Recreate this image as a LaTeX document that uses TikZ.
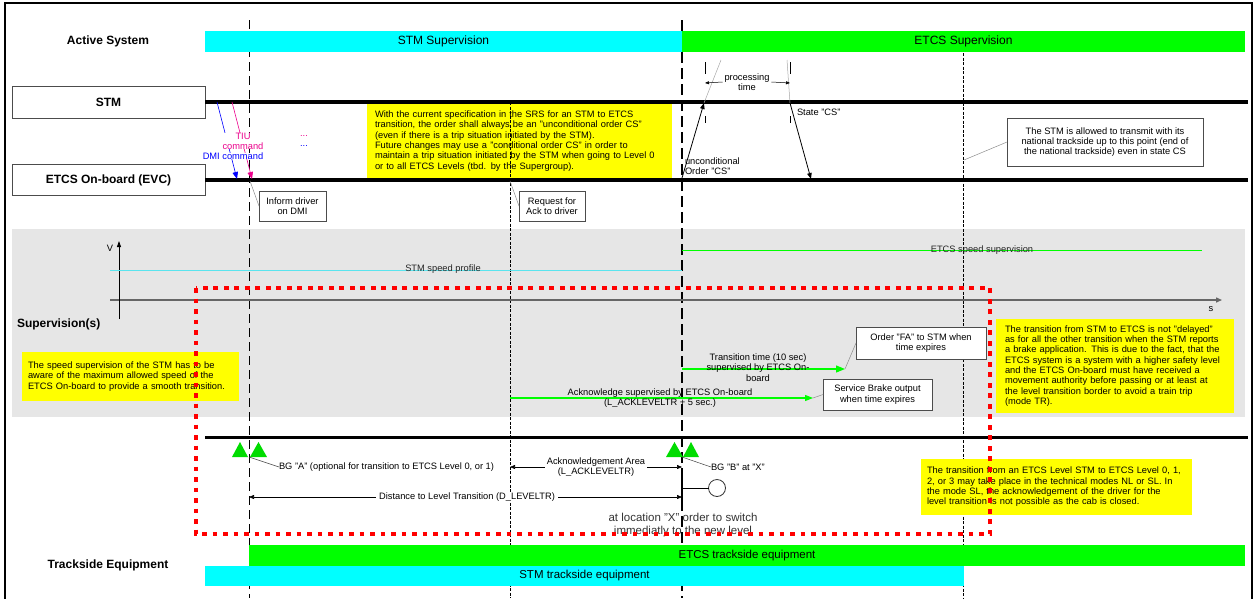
\documentclass[tikz,border=0pt]{standalone}
\usepackage{fontspec}
\setmainfont{Liberation Sans}
\usetikzlibrary{arrows.meta}
\definecolor{stmcyan}{RGB}{0,255,255}
\definecolor{etcsgreen}{RGB}{0,255,0}
\definecolor{bggreen}{RGB}{0,220,0}
\definecolor{noteyellow}{RGB}{255,255,0}
\definecolor{supgrey}{RGB}{230,230,230}
\definecolor{dotred}{RGB}{255,0,0}
\definecolor{profcyan}{RGB}{90,228,238}
\begin{document}
\begin{tikzpicture}[x=1pt,y=-1pt,
  every node/.style={inner sep=0pt, outer sep=0pt},
  txtsmall/.style={font=\fontsize{9.3}{10.3}\selectfont},
  headfont/.style={font=\fontsize{12}{14}\selectfont\bfseries},
  sysbox/.style={draw=black!70, line width=0.9pt, fill=white,
    font=\fontsize{12}{14}\selectfont\bfseries, minimum width=193pt},
  fillbar/.style={font=\fontsize{12}{14}\selectfont, minimum height=21pt},
  notebox/.style={fill=noteyellow, align=left, font=\fontsize{9.3}{10.3}\selectfont},
  infobox/.style={draw=black!70, line width=0.8pt, fill=white, align=center,
    font=\fontsize{9.3}{10.3}\selectfont},
  leader/.style={draw=black!45, line width=0.5pt},
  timeline/.style={line width=3.3pt},
  longdash/.style={line width=1pt, dash pattern=on 9pt off 5pt},
  heavydash/.style={line width=2pt, dash pattern=on 11pt off 5pt},
  finedash/.style={line width=0.7pt, dash pattern=on 3pt off 1.5pt},
  reddots/.style={draw=dotred, line width=4.6pt, dash pattern=on 4.6pt off 5.9pt},
  blk/.style={line width=0.8pt, -{Triangle[length=6pt,width=4.5pt]}},
  grn/.style={draw=etcsgreen, line width=1.2pt, -{Triangle[length=9pt,width=7pt]}},
  measure/.style={line width=0.6pt,
    {Triangle[length=5pt,width=4pt]}-{Triangle[length=5pt,width=4pt]}}
]
\useasboundingbox (0,0) rectangle (1259,598);

% outer frame and supervision band
\draw[line width=1.5pt] (5,3) rectangle (1252,600);
\fill[supgrey] (12,229) rectangle (1245,417);

% note on the order type (lies under the time markers)
\node[notebox, minimum width=305pt, minimum height=74pt, text width=289pt] (noteorder) at (519.5,141)
  {With the current specification in the SRS for an STM to ETCS\\
   transition, the order shall always be an "unconditional order CS"\\
   (even if there is a trip situation initiated by the STM).\\
   Future changes may use a "conditional order CS" in order to\\
   maintain a trip situation initiated by the STM when going to Level 0\\
   or to all ETCS Levels (tbd. by the Supergroup).};

% vertical time/location markers
\coordinate (mA1) at (249,20);  \coordinate (mA2) at (249,598);
\coordinate (mX1) at (682,20);  \coordinate (mX2) at (682,598);
\coordinate (mK1) at (510,102); \coordinate (mK2) at (510,598);
\coordinate (mE1) at (963,53);  \coordinate (mE2) at (963,598);
\draw[longdash] (mA1) -- (mA2);
\draw[heavydash] (mX1) -- (mX2);
\draw[finedash] (mK1) -- (mK2);
\draw[finedash] (mE1) -- (mE2);

% active system row
\node[headfont] (lblactive) at (108,41) {Active System};
\node[fillbar, fill=stmcyan, minimum width=477pt] (supstm) at (443.5,41.5) {STM Supervision};
\node[fillbar, fill=etcsgreen, minimum width=563pt] (supetcs) at (963.5,41.5) {ETCS Supervision};

% STM and on-board lifelines
\node[sysbox, minimum height=32pt] (stm) at (108.5,102) {STM};
\node[sysbox, minimum height=31pt] (evc) at (108.5,180) {ETCS On-board (EVC)};
\coordinate (stmend) at (1248,102);
\coordinate (evcend) at (1248,180);
\draw[timeline] (stm.east) -- (stmend);
\draw[timeline] (evc.east) -- (evcend);

% DMI and TIU commands
\coordinate (dmiA) at (217,102); \coordinate (dmiB) at (237,179);
\coordinate (tiuA) at (232,102); \coordinate (tiuB) at (252,179);
\draw[blue, line width=0.6pt, -{Triangle[length=7pt,width=5.5pt]}] (dmiA) -- (dmiB);
\draw[magenta, line width=0.6pt, -{Triangle[length=7pt,width=5.5pt]}] (tiuA) -- (tiuB);
\node[txtsmall, text=magenta, fill=white, align=center] (tiu) at (243,141) {TIU\\command};
\node[txtsmall, text=blue, fill=white] (dmi) at (233,156) {DMI command};
\node[txtsmall, text=magenta] (dotsm) at (304,136) {...};
\node[txtsmall, text=blue] (dotsb) at (304,146) {...};

% driver information boxes
\node[infobox, minimum width=67pt, minimum height=30pt] (inform) at (292.5,206) {Inform driver\\on DMI};
\node[infobox, minimum width=66pt, minimum height=30pt] (request) at (552,206) {Request for\\Ack to driver};
\coordinate (informpt) at (250,181);
\coordinate (requestpt) at (510,181);
\draw[leader] (inform.west) -- (informpt);
\draw[leader] (request.west) -- (requestpt);

% order CS and processing time
\coordinate (ucstart) at (682,178); \coordinate (ucend) at (704,103);
\coordinate (csstart) at (790,103); \coordinate (csend) at (811,179);
\coordinate (ucref) at (721,60);   \coordinate (csref) at (787,60);
\draw[leader, draw=black!35] (ucend) -- (ucref);
\draw[leader, draw=black!35] (csref) -- (csstart);
\draw[blk] (ucstart) -- (ucend);
\draw[blk] (csstart) -- (csend);
\draw[line width=0.8pt] (705,62) -- (705,74) (705,116) -- (705,123)
                        (790,62) -- (790,74) (790,116) -- (790,123);
\node[txtsmall, align=center] (proc) at (747,82) {processing\\time};
\coordinate (procL) at (705,83); \coordinate (procR) at (790,83);
\draw[line width=0.5pt, -{Triangle[length=4pt,width=3pt]}] ([xshift=-2pt]proc.west) -- (procL);
\draw[line width=0.5pt, -{Triangle[length=4pt,width=3pt]}] ([xshift=2pt]proc.east) -- (procR);
\node[txtsmall, anchor=west, align=left] (uclbl) at (685,166) {unconditional\\Order "CS"};
\node[txtsmall, anchor=west] (cslbl) at (797,112) {State "CS"};

\node[infobox, minimum width=196pt, minimum height=48pt] (allowed) at (1105,142)
  {The STM is allowed to transmit with its\\national trackside up to this point (end of\\the national trackside) even in state CS};
\coordinate (allowedpt) at (964,160);
\draw[leader] (allowed.west) -- (allowedpt);

% speed diagram
\coordinate (vA) at (119,319); \coordinate (vB) at (119,241);
\coordinate (sA) at (110,300); \coordinate (sB) at (1222,300);
\draw[line width=1.4pt, draw=black!60, -{Triangle[length=6pt,width=5pt]}] (sA) -- (sB);
\draw[line width=0.8pt, -{Triangle[length=6pt,width=4pt]}] (vA) -- (vB);
\node[txtsmall] (vlbl) at (110,248) {V};
\node[txtsmall] (slbl) at (1211,309) {s};
\node[headfont, anchor=west] (lblsup) at (17,324) {Supervision(s)};
\coordinate (cyA) at (110,270); \coordinate (cyB) at (682,270);
\draw[profcyan, line width=1pt] (cyA) -- (cyB);
\node[txtsmall, text=black!85] (stmprof) at (443,269) {STM speed profile};
\coordinate (gsA) at (682,250); \coordinate (gsB) at (1202,250);
\draw[etcsgreen, line width=1pt] (gsA) -- (gsB);
\node[txtsmall, text=black!85] (etcsprof) at (982,250) {ETCS speed supervision};

% supervised times
\coordinate (ttA) at (682,369); \coordinate (ttB) at (845,369);
\draw[grn] (ttA) -- (ttB);
\node[txtsmall, align=center] (ttlbl) at (758,367.5) {Transition time (10 sec)\\supervised by ETCS On-\\board};
\coordinate (akA) at (510,398); \coordinate (akB) at (813,398);
\draw[grn, -{Triangle[length=8pt,width=6pt]}] (akA) -- (akB);
\node[txtsmall, align=center] (aklbl) at (660,398) {Acknowledge supervised by ETCS On-board\\(L\_ACKLEVELTR + 5 sec.)};
\node[infobox, minimum width=130pt, minimum height=32pt] (orderfa) at (921,343) {Order "FA" to STM when\\time expires};
\node[infobox, minimum width=109pt, minimum height=31pt] (sbrake) at (877.5,394.5) {Service Brake output\\when time expires};
\draw[leader] (ttB) -- (orderfa.west);
\draw[leader] (akB) -- (sbrake.west);

% explanatory notes
\node[notebox, minimum width=217pt, minimum height=49pt, text width=205pt] (notespeed) at (130.5,376.5)
  {The speed supervision of the STM has to be\\
   aware of the maximum allowed speed of the\\
   ETCS On-board to provide a smooth transition.};
\node[notebox, minimum width=238pt, minimum height=94pt, text width=220pt] (notedelay) at (1115,366)
  {The transition from STM to ETCS is not "delayed"\\
   as for all the other transition when the STM reports\\
   a brake application. This is due to the fact, that the\\
   ETCS system is a system with a higher safety level\\
   and the ETCS On-board must have received a\\
   movement authority before passing or at least at\\
   the level transition border to avoid a train trip\\
   (mode TR).};

% track with balise groups
\coordinate (trkA) at (205,437); \coordinate (trkB) at (1248,437);
\draw[line width=3pt] (trkA) -- (trkB);
\fill[bggreen] (232,457) -- (240,442) -- (248,457) -- cycle;
\fill[bggreen] (250,457) -- (258.5,442) -- (267,457) -- cycle;
\fill[bggreen] (666,457) -- (674.5,442) -- (683,457) -- cycle;
\fill[bggreen] (683,457) -- (691,442) -- (699,457) -- cycle;
\coordinate (bgApt) at (249,457); \coordinate (bgBpt) at (682,457);
\node[txtsmall, anchor=west] (bga) at (279,467) {BG "A" (optional for transition to ETCS Level 0, or 1)};
\node[txtsmall, anchor=west] (bgb) at (711,467) {BG "B" at "X"};
\draw[line width=0.5pt, black!75] (bgApt) -- (bga.west);
\draw[line width=0.5pt, black!75] (bgBpt) -- (bgb.west);

% distances
\coordinate (aaA) at (510,467); \coordinate (aaB) at (682,467);
\draw[measure] (aaA) -- (aaB);
\node[txtsmall, align=center, fill=white, inner xsep=2pt] (ackarea) at (596,467) {Acknowledgement Area\\(L\_ACKLEVELTR)};
\coordinate (dlA) at (249,497); \coordinate (dlB) at (682,497);
\draw[measure] (dlA) -- (dlB);
\node[txtsmall, fill=white, inner xsep=3pt, inner ysep=1pt] (dlevel) at (467,497) {Distance to Level Transition (D\_LEVELTR)};

% level transition signal at X
\coordinate (sigA) at (682,479); \coordinate (sigB) at (682,506); \coordinate (sigC) at (682,488);
\draw[line width=1.6pt] (sigA) -- (sigB);
\node[circle, draw=black!80, line width=0.8pt, fill=white, minimum size=17pt] (sig) at (717,488) {};
\draw[line width=0.8pt] (sigC) -- (sig.west);
\node[font=\fontsize{11.5}{13}\selectfont, text=black!80, align=center] (switch) at (683,525.5)
  {at location "X" order to switch\\immediatly to the new level};

\node[notebox, minimum width=271pt, minimum height=56pt, text width=259pt] (notemodes) at (1056.5,487)
  {The transition from an ETCS Level STM to ETCS Level 0, 1,\\
   2, or 3 may take place in the technical modes NL or SL. In\\
   the mode SL, the acknowledgement of the driver for the\\
   level transition is not possible as the cab is closed.};

% trackside equipment row
\node[headfont] (lbltrk) at (108,565) {Trackside Equipment};
\node[fillbar, fill=etcsgreen, minimum width=996pt, font=\fontsize{11.5}{13}\selectfont] (trketcs) at (747,555.5) {ETCS trackside equipment};
\node[fillbar, fill=stmcyan, minimum width=759pt, minimum height=20pt, font=\fontsize{11.5}{13}\selectfont] (trkstm) at (584.5,576) {STM trackside equipment};

% region of the level transition
\draw[reddots] (196,288) rectangle (990,534);
\end{tikzpicture}
\end{document}
